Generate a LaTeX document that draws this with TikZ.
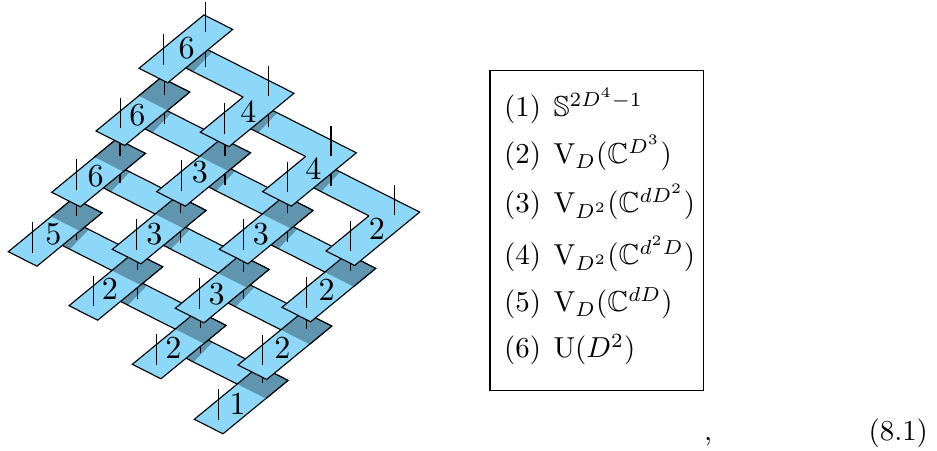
\documentclass[tikz,border=0pt]{standalone}
\usepackage{amsmath,amssymb}
\usetikzlibrary{calc}
\definecolor{lightb}{HTML}{8DD8F8}
\definecolor{darkb}{HTML}{5F95AE}
\tikzset{
  outl/.style={black,line width=0.42pt,line join=miter},
  tick/.style={black,line width=0.42pt},
  num/.style={inner sep=0pt,scale=1.2},
  leg/.style={inner sep=0pt,anchor=base west,scale=1.08},
}
\newcommand{\tx}{68.3}
% long vector (65,-53.4), short vector (28.7,14.5), all in image pixels
\newcommand{\loneplate}[1]{%
  \fill[lightb] (p#1) -- ++(28.7,14.5) -- ++(65,-53.4) -- ++(-28.7,-14.5) -- cycle;
  \draw[outl] (p#1) -- ++(28.7,14.5) -- ++(65,-53.4) -- ++(-28.7,-14.5) -- cycle;
}
% plate #1 with a band coming from under plate #2; #3 = lower end of the tick of plate #2
\newcommand{\bandplate}[4]{%
  \coordinate (T) at ($(p#1)+(65,-53.4)$);
  \coordinate (N) at ($(p#1)+(42.9,-35.2)$);
  \coordinate (S1) at ($(T)-(57.4,29)$);
  \coordinate (S2) at ($(N)-(57.4,29)$);
  \coordinate (B) at ($(p#2)+(28.7,14.5)$);
  \coordinate (R) at ($(p#2)+(93.7,-38.9)$);
  \coordinate (E1) at (intersection of S1--T and B--R);
  \coordinate (E2) at (intersection of S2--N and B--R);
  \fill[lightb] (p#1) -- ++(28.7,14.5) -- ++(65,-53.4) -- (T) -- (S1) -- (S2) -- (N) -- cycle;
  \fill[darkb] (S1) -- (S2) -- (E2) -- ($(E2)+(7.5,3.8)$) -- ($(E1)+(4.5,2)$) -- (E1) -- cycle;
  \draw[outl] (N) -- (p#1) -- ++(28.7,14.5) -- ++(65,-53.4) -- (T) -- (S1);
  \draw[outl] (N) -- (S2);
  \draw[tick] ($(p#2)+(#4,-36)$) -- ($(p#2)+(#4,#3)$);
}
\newcommand{\darkend}[1]{%
  \fill[darkb] ($(p#1)+(42.9,-35.2)$) -- ++(28.7,14.5) -- ++(22.1,-18.2) -- ++(-28.7,-14.5) -- cycle;
  \draw[outl] ($(p#1)+(71.6,-20.7)$) -- ++(22.1,-18.2) -- ++(-28.7,-14.5) -- ($(p#1)+(42.9,-35.2)$);
}
\newcommand{\ticks}[3]{%
  \draw[tick] ($(p#1)+(#3,-66)$) -- ++(0,30);
  \draw[tick] ($(p#1)+(24.5,#2)$) -- ++(0,30.5);
}
\begin{document}
\begin{tikzpicture}[x=0.3738pt,y=-0.3738pt]
\useasboundingbox (0,0) rectangle (937,451);
% plate corners: pRC, R runs to the lower right, C to the upper right
\coordinate (p00) at (8.3,251.7);
\coordinate (p01) at (51.7,192.3);
\coordinate (p02) at (96,131);
\coordinate (p03) at (139,68.3);
\coordinate (p10) at (69,305.7);
\coordinate (p11) at (112.3,249.3);
\coordinate (p12) at (156.7,191.7);
\coordinate (p13) at (200.3,132.2);
\coordinate (p20) at (132.3,364.3);
\coordinate (p21) at (175.3,308.3);
\coordinate (p22) at (219.3,249.3);
\coordinate (p23) at (262.7,191.7);
\coordinate (p30) at (194.3,419.3);
\coordinate (p31) at (238,365);
\coordinate (p32) at (282,307.3);
\coordinate (p33) at (326,251);
% column 0
\bandplate{30}{20}{-11}{\tx}\darkend{30}\ticks{30}{-30}{\tx}
\bandplate{20}{10}{-6.7}{\tx}\darkend{20}\ticks{20}{-30}{\tx}
\bandplate{10}{00}{-12}{\tx}\darkend{10}\ticks{10}{-30}{\tx}
\loneplate{00}\darkend{00}\ticks{00}{-29.5}{\tx}
% column 1
\bandplate{31}{21}{-9.3}{\tx}\darkend{31}\ticks{31}{-30}{\tx}
\bandplate{21}{11}{-6.6}{\tx}\darkend{21}\ticks{21}{-30}{\tx}
\bandplate{11}{01}{-9}{\tx}\darkend{11}\ticks{11}{-30}{\tx}
\loneplate{01}\darkend{01}\ticks{01}{-33}{\tx}
% column 2
\bandplate{32}{22}{-7.7}{\tx}\darkend{32}\ticks{32}{-30}{\tx}
\bandplate{22}{12}{-7}{\tx}\darkend{22}\ticks{22}{-30}{\tx}
\bandplate{12}{02}{-6.7}{\tx}\darkend{12}\ticks{12}{-31.5}{\tx}
\loneplate{02}\darkend{02}\ticks{02}{-33}{\tx}
% column 3
\bandplate{33}{23}{-6}{\tx}\ticks{33}{-30}{\tx}
\bandplate{23}{13}{-5}{\tx}\ticks{23}{-30}{\tx}
\bandplate{13}{03}{-1.6}{66.7}\ticks{13}{-29}{\tx}
\loneplate{03}\ticks{03}{-34}{66.7}
% numbers
\node[num] (n00) at (53.3,234.3) {5};
\node[num] (n01) at (95.7,175.7) {6};
\node[num] (n02) at (137.3,115) {6};
\node[num] (n03) at (186.7,47.7) {6};
\node[num] (n10) at (110,289.3) {2};
\node[num] (n11) at (154.3,234) {3};
\node[num] (n12) at (200,171.7) {3};
\node[num] (n13) at (248.3,111.7) {4};
\node[num] (n20) at (173.3,348.3) {2};
\node[num] (n21) at (216.7,294) {3};
\node[num] (n22) at (261,234) {3};
\node[num] (n23) at (313.3,168.3) {4};
\node[num] (n30) at (237.7,404) {1};
\node[num] (n31) at (282.3,348.3) {2};
\node[num] (n32) at (326.7,290) {2};
\node[num] (n33) at (377,229) {2};
% legend
\draw[black,line width=0.42pt] (490,70.7) rectangle (703.3,390.7);
\node[leg] (a1) at (503.5,116.7) {(1)};
\node[leg] (b1) at (553,116.7) {$\mathbb{S}^{2D^4-1}$};
\node[leg] (a2) at (503.5,164) {(2)};
\node[leg] (b2) at (553,164) {$\mathrm{V}_D(\mathbb{C}^{D^3})$};
\node[leg] (a3) at (503.5,213) {(3)};
\node[leg] (b3) at (553,213) {$\mathrm{V}_{D^2}(\mathbb{C}^{dD^2})$};
\node[leg] (a4) at (503.5,265) {(4)};
\node[leg] (b4) at (553,265) {$\mathrm{V}_{D^2}(\mathbb{C}^{d^2D})$};
\node[leg] (a5) at (503.5,311.7) {(5)};
\node[leg] (b5) at (553,311.7) {$\mathrm{V}_D(\mathbb{C}^{dD})$};
\node[leg] (a6) at (503.5,358) {(6)};
\node[leg] (b6) at (553,358) {$\mathrm{U}(D^2)$};
\node[leg] (comma) at (703.5,440.7) {,};
\node[leg] (eqn) at (868,440.7) {(8.1)};
\end{tikzpicture}
\end{document}
